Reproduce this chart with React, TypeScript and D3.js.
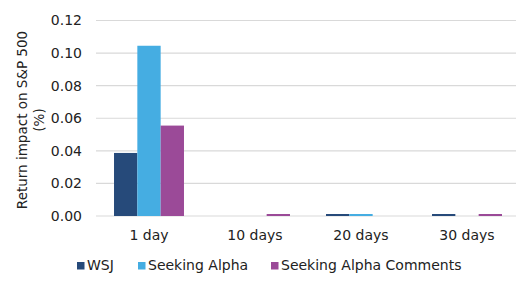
import React from "react";
import * as d3 from "d3";

const categories = ["1 day", "10 days", "20 days", "30 days"];
const seriesNames = ["WSJ", "Seeking Alpha", "Seeking Alpha Comments"];
const wsj = [0.0387, 0, 0.001, 0.001];
const seekingAlpha = [0.1045, 0, 0.001, 0];
const seekingAlphaComments = [0.0555, 0.001, 0, 0.001];
const yTicks = [0, 0.02, 0.04, 0.06, 0.08, 0.1, 0.12];
const colors = ["#264A7A", "#45ADE2", "#9B4A98"];

export default function App() {
  const W = 516, H = 290;
  const font = "DejaVu Sans, Verdana, sans-serif";
  const x0 = d3.scaleBand<string>().domain(categories).range([96, 520]).paddingInner(0.34).paddingOuter(0.17);
  const x1 = d3.scaleBand<string>().domain(seriesNames).range([0, x0.bandwidth()]);
  const y = d3.scaleLinear().domain([0, 0.12]).range([216, 20.5]);
  const series = [wsj, seekingAlpha, seekingAlphaComments];
  const legendX = [77, 138, 271];
  return (
    <svg width={W} height={H} style={{ position: "absolute", left: 0, top: 0, background: "#fff" }} fontFamily={font}>
      {yTicks.map((t) => (
        <g key={t}>
          <line x1={96} x2={W} y1={y(t)} y2={y(t)} stroke="#D9D9D9" strokeWidth={1.2} />
          <text x={82} y={y(t)} dy="0.35em" textAnchor="end" fontSize={14} fill="#222">{t.toFixed(2)}</text>
        </g>
      ))}
      {categories.map((c, ci) => (
        <g key={c} transform={`translate(${x0(c)},0)`}>
          {series.map((s, si) => {
            const v = s[ci];
            if (v <= 0) return null;
            const top = Math.min(y(v), y(0) - 2);
            return (
              <rect key={si} x={x1(seriesNames[si])} y={top} width={x1.bandwidth()} height={y(0) - top} fill={colors[si]} />
            );
          })}
          <text x={x0.bandwidth() / 2} y={235} dy="0.35em" textAnchor="middle" fontSize={14} fill="#222">{c}</text>
        </g>
      ))}
      <text transform={`translate(27,120) rotate(-90)`} textAnchor="middle" fontSize={13.5} fill="#222">
        <tspan x={0} y={0}>Return impact on S&amp;P 500</tspan>
        <tspan x={0} y={17}>(%)</tspan>
      </text>
      {seriesNames.map((n, i) => (
        <g key={n}>
          <rect x={legendX[i]} y={262} width={7.5} height={7.5} fill={colors[i]} />
          <text x={legendX[i] + 10} y={265} dy="0.35em" fontSize={14} fill="#222">{n}</text>
        </g>
      ))}
    </svg>
  );
}
